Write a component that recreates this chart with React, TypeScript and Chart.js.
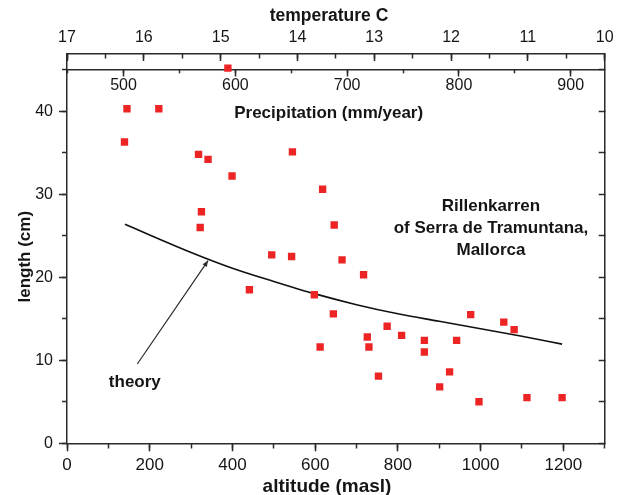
import React, { useEffect, useRef } from 'react';
import { Chart, registerables } from 'chart.js';

Chart.register(...registerables);

// ---------- data ----------
const altitude = [389, 145, 222, 139, 318, 341, 399, 545, 618, 325, 322, 646, 495, 543, 665, 441, 598, 644, 612, 717, 726, 730, 774, 809, 753, 864, 864, 942, 901, 925, 976, 996, 1056, 1081, 1112, 1197];
const lengthCm = [45.2, 40.3, 40.3, 36.3, 34.8, 34.2, 32.2, 35.1, 30.6, 27.9, 26.0, 26.3, 22.7, 22.5, 22.1, 18.5, 17.9, 15.6, 11.6, 20.3, 12.8, 11.6, 14.1, 13.0, 8.1, 12.4, 11.0, 12.4, 6.8, 8.6, 15.5, 5.0, 14.6, 13.7, 5.5, 5.5];

const theoryAltitude = [140, 200, 300, 400, 500, 600, 700, 800, 900, 1000, 1100, 1197];
const theoryLength = [26.4, 25.1, 23.0, 21.1, 19.5, 18.0, 16.7, 15.6, 14.7, 13.8, 12.9, 11.95];

// axis ranges
const ALT_RANGE = [0, 1300];
const LEN_RANGE = [0, 46.9];
const TEMP_RANGE = [10, 17]; // drawn reversed: 17 at left, 10 at right
const PRECIP_RANGE = [449.4, 930.4];
const PRECIP_AXIS_AT = 45;

// texts
const TEMP_TITLE = 'temperature C';
const ALT_TITLE = 'altitude (masl)';
const LEN_TITLE = 'length (cm)';
const PRECIP_TITLE = 'Precipitation (mm/year)';
const SITE_LINES = ['Rillenkarren', 'of Serra de Tramuntana,', 'Mallorca'];
const THEORY_LABEL = 'theory';

// annotation anchors in data coordinates [altitude, length]
const PRECIP_TITLE_AT = [632.6, 39.76];
const SITE_AT = [1025, 28.5];
const THEORY_LABEL_AT = [164, 7.4];
const ARROW_FROM = [170, 9.55];
const ARROW_TO = [341, 22.0];

const FONT = '"Liberation Sans", Arial, Helvetica, sans-serif';
const AXIS = '#2a2a2a';
const TEXT = '#151515';
const RED = '#ec2424';

const plainLabel = (v: any) => String(Math.round(Number(v) * 100) / 100);

const figureText = {
  id: 'figureText',
  afterDraw(chart: any) {
    const { ctx, chartArea: a, scales } = chart;
    const px = (v: number) => scales.x.getPixelForValue(v);
    const py = (v: number) => scales.y.getPixelForValue(v);
    ctx.save();
    ctx.fillStyle = TEXT;
    ctx.textAlign = 'center';
    ctx.textBaseline = 'middle';

    ctx.font = `bold 17.5px ${FONT}`;
    ctx.fillText(TEMP_TITLE, a.left + 262, a.top - 38);

    ctx.font = `bold 19px ${FONT}`;
    ctx.fillText(ALT_TITLE, a.left + 260, a.bottom + 43.5);

    ctx.save();
    ctx.translate(a.left - 42, a.top + 202.7);
    ctx.rotate(-Math.PI / 2);
    ctx.font = `bold 17px ${FONT}`;
    ctx.fillText(LEN_TITLE, 0, 0);
    ctx.restore();

    ctx.font = `bold 17px ${FONT}`;
    ctx.fillText(PRECIP_TITLE, px(PRECIP_TITLE_AT[0]), py(PRECIP_TITLE_AT[1]));

    SITE_LINES.forEach((t, i) => {
      ctx.fillText(t, px(SITE_AT[0]), py(SITE_AT[1]) + i * 21.7);
    });

    ctx.fillText(THEORY_LABEL, px(THEORY_LABEL_AT[0]), py(THEORY_LABEL_AT[1]));

    // arrow
    const x1 = px(ARROW_FROM[0]), y1 = py(ARROW_FROM[1]);
    const x2 = px(ARROW_TO[0]), y2 = py(ARROW_TO[1]);
    const ang = Math.atan2(y2 - y1, x2 - x1);
    ctx.strokeStyle = AXIS;
    ctx.lineWidth = 1.2;
    ctx.beginPath();
    ctx.moveTo(x1, y1);
    ctx.lineTo(x2, y2);
    ctx.stroke();
    const hl = 6, hw = 2.6;
    ctx.beginPath();
    ctx.moveTo(x2, y2);
    ctx.lineTo(x2 - hl * Math.cos(ang) + hw * Math.sin(ang), y2 - hl * Math.sin(ang) - hw * Math.cos(ang));
    ctx.lineTo(x2 - hl * Math.cos(ang) - hw * Math.sin(ang), y2 - hl * Math.sin(ang) + hw * Math.cos(ang));
    ctx.closePath();
    ctx.fillStyle = AXIS;
    ctx.fill();
    ctx.restore();
  },
};

const gridOf = (len: number) => ({
  drawOnChartArea: false,
  drawTicks: true,
  tickLength: len,
  tickColor: AXIS,
  tickWidth: 1.5,
});

export default function App() {
  const ref = useRef<HTMLCanvasElement>(null);

  useEffect(() => {
    if (!ref.current) return;
    const scatterData = altitude.map((a, i) => ({ x: a, y: lengthCm[i] }));
    const theoryData = theoryAltitude.map((a, i) => ({ x: a, y: theoryLength[i] }));

    const chart = new Chart(ref.current, {
      type: 'scatter',
      data: {
        datasets: [
          {
            label: 'Rillenkarren',
            data: scatterData,
            pointStyle: 'rect',
            pointRadius: 5.2,
            pointBackgroundColor: RED,
            pointBorderColor: RED,
            pointBorderWidth: 0,
            showLine: false,
          },
          {
            label: 'theory',
            data: theoryData,
            showLine: true,
            pointRadius: 0,
            borderColor: '#111',
            borderWidth: 1.6,
            cubicInterpolationMode: 'monotone',
          },
        ],
      },
      plugins: [figureText],
      options: {
        animation: false,
        responsive: false,
        devicePixelRatio: 1,
        layout: { padding: 0 },
        plugins: { legend: { display: false }, tooltip: { enabled: false } },
        scales: {
          x: {
            type: 'linear',
            axis: 'x',
            position: 'bottom',
            min: ALT_RANGE[0],
            max: ALT_RANGE[1],
            ticks: { stepSize: 200, autoSkip: false, maxRotation: 0, includeBounds: false, padding: 3.5, color: TEXT, font: { family: FONT, size: 17 }, callback: plainLabel },
            grid: gridOf(8),
            border: { display: true, color: AXIS, width: 1.5 },
            afterFit: (s: any) => { s.height = 51.7; },
          },
          xMinor: {
            type: 'linear',
            axis: 'x',
            position: { y: 0 },
            min: ALT_RANGE[0],
            max: ALT_RANGE[1],
            ticks: { stepSize: 100, display: false, autoSkip: false, includeBounds: false },
            grid: gridOf(5.5),
            border: { display: false },
          },
          temp: {
            type: 'linear',
            axis: 'x',
            position: 'top',
            min: TEMP_RANGE[0],
            max: TEMP_RANGE[1],
            reverse: true,
            ticks: { stepSize: 1, autoSkip: false, maxRotation: 0, padding: 13.4, color: TEXT, font: { family: FONT, size: 16 }, callback: plainLabel },
            grid: gridOf(-7),
            border: { display: true, color: AXIS, width: 1.5 },
            afterFit: (s: any) => { s.height = 54; },
          },
          tempMinor: {
            type: 'linear',
            axis: 'x',
            position: { y: LEN_RANGE[1] },
            min: TEMP_RANGE[0],
            max: TEMP_RANGE[1],
            reverse: true,
            ticks: { stepSize: 0.5, display: false, autoSkip: false },
            grid: gridOf(4.5),
            border: { display: false },
          },
          precip: {
            type: 'linear',
            axis: 'x',
            position: { y: PRECIP_AXIS_AT },
            min: PRECIP_RANGE[0],
            max: PRECIP_RANGE[1],
            ticks: { stepSize: 100, autoSkip: false, maxRotation: 0, includeBounds: false, padding: 0, color: TEXT, font: { family: FONT, size: 16 }, callback: plainLabel },
            grid: gridOf(6),
            border: { display: true, color: AXIS, width: 1.5 },
          },
          precipMinor: {
            type: 'linear',
            axis: 'x',
            position: { y: PRECIP_AXIS_AT },
            min: PRECIP_RANGE[0],
            max: PRECIP_RANGE[1],
            ticks: { stepSize: 50, display: false, autoSkip: false, includeBounds: false },
            grid: gridOf(3.3),
            border: { display: false },
          },
          y: {
            type: 'linear',
            axis: 'y',
            position: 'left',
            min: LEN_RANGE[0],
            max: LEN_RANGE[1],
            ticks: { stepSize: 10, autoSkip: false, includeBounds: false, padding: 6, color: TEXT, font: { family: FONT, size: 16 }, callback: plainLabel },
            grid: gridOf(8),
            border: { display: true, color: AXIS, width: 1.5 },
            afterFit: (s: any) => { s.width = 67; },
          },
          yMinor: {
            type: 'linear',
            axis: 'y',
            position: { x: 0 },
            min: LEN_RANGE[0],
            max: LEN_RANGE[1],
            ticks: { stepSize: 5, display: false, autoSkip: false, includeBounds: false },
            grid: gridOf(5),
            border: { display: false },
          },
          yRight: {
            type: 'linear',
            axis: 'y',
            position: 'right',
            min: LEN_RANGE[0],
            max: LEN_RANGE[1],
            ticks: { stepSize: 5, display: false, autoSkip: false, includeBounds: false },
            grid: gridOf(-6),
            border: { display: true, color: AXIS, width: 1.5 },
            afterFit: (s: any) => { s.width = 18.5; },
          },
        },
      },
    } as any);
    return () => chart.destroy();
  }, []);

  return (
    <div style={{ position: 'fixed', left: 0, top: 0, width: 627, height: 495, background: '#fff' }}>
      <canvas ref={ref} width={627} height={495} style={{ display: 'block', width: 627, height: 495 }} />
    </div>
  );
}
